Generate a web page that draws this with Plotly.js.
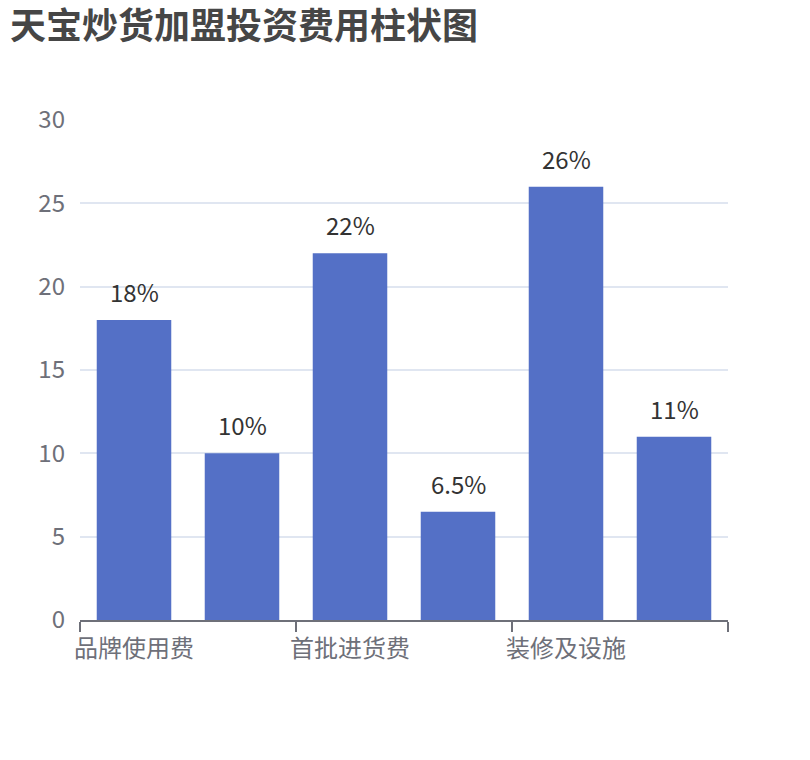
<!DOCTYPE html>
<html>
<head>
<meta charset="utf-8">
<script src="https://cdn.plot.ly/plotly-3.0.1.min.js"></script>
<style>html,body{margin:0;padding:0;background:#fff;}#chart{width:810px;height:760px;}</style>
</head>
<body>
<div id="chart"></div>
<script>
var categories = ["品牌使用费", "保证金", "首批进货费", "店面租金", "装修及设施", "其他费用"];
var values = [18, 10, 22, 6.5, 26, 11];
var labelText = ["18%", "10%", "22%", "6.5%", "26%", "11%"];
var shownTicks = ["品牌使用费", "首批进货费", "装修及设施"];
var yTicks = [0, 5, 10, 15, 20, 25, 30];

var FONT = '"Noto Sans CJK SC", "Noto Sans", sans-serif';

var trace = {
  type: 'bar',
  x: categories,
  y: values,
  marker: {color: '#5470c6'},
  hoverinfo: 'x+y'
};

var labelAnnotations = categories.map(function (c, i) {
  return {
    x: c, y: values[i], xref: 'x', yref: 'y',
    text: labelText[i],
    showarrow: false,
    xanchor: 'center', yanchor: 'bottom',
    yshift: 9,
    font: {family: FONT, size: 24, color: '#333333'}
  };
});

var layout = {
  width: 810,
  height: 760,
  margin: {l: 80, r: 82, t: 120, b: 140},
  paper_bgcolor: '#ffffff',
  plot_bgcolor: '#ffffff',
  showlegend: false,
  bargap: 0.31,
  title: {
    text: '天宝炒货加盟投资费用柱状图',
    font: {family: FONT, size: 36, color: '#464646', weight: 'bold'},
    xref: 'container', yref: 'container',
    x: 10 / 810, xanchor: 'left',
    y: 1 - 26 / 760, yanchor: 'middle'
  },
  annotations: labelAnnotations,
  xaxis: {
    type: 'category',
    tickmode: 'array',
    tickvals: shownTicks,
    ticktext: shownTicks,
    ticks: '',
    showline: false,
    showgrid: false,
    zeroline: false,
    tickfont: {family: FONT, size: 24, color: '#6E7079'},
    ticklabelstandoff: 12,
    fixedrange: true
  },
  xaxis2: {
    overlaying: 'x',
    side: 'bottom',
    anchor: 'y',
    type: 'linear',
    range: [-0.5, categories.length - 0.5],
    tickmode: 'linear',
    tick0: -0.5,
    dtick: 2,
    ticks: 'outside',
    ticklen: 10,
    tickwidth: 2,
    tickcolor: '#6E7079',
    showticklabels: false,
    showline: true,
    linecolor: '#6E7079',
    linewidth: 2,
    showgrid: false,
    zeroline: false
  },
  yaxis: {
    range: [0, 30],
    tickmode: 'array',
    tickvals: yTicks,
    showgrid: true,
    gridcolor: '#E0E6F1',
    gridwidth: 2,
    zeroline: false,
    showline: false,
    ticks: '',
    tickfont: {family: FONT, size: 24, color: '#6E7079'},
    ticklabelstandoff: 14,
    fixedrange: true
  }
};

var dummy = {type: 'scatter', x: [-0.5, categories.length - 0.5], y: [0, 0], xaxis: 'x2', yaxis: 'y', mode: 'lines', line: {width: 0}, hoverinfo: 'skip', showlegend: false};

Plotly.newPlot('chart', [trace, dummy], layout, {displayModeBar: false, staticPlot: true});
</script>
</body>
</html>
